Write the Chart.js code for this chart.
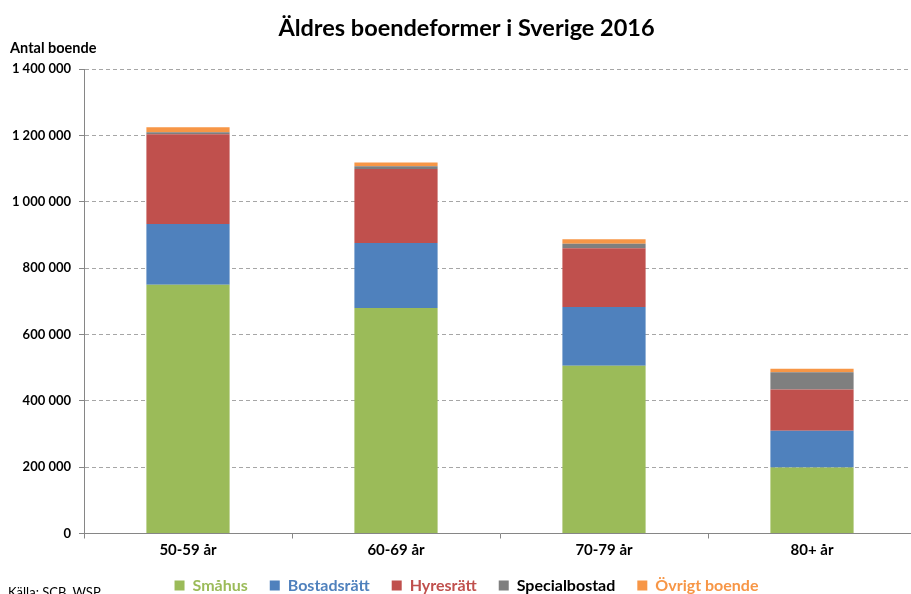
<!DOCTYPE html>
<html>
<head>
<meta charset="utf-8">
<script src="https://cdn.jsdelivr.net/npm/chart.js@4/dist/chart.umd.min.js"></script>
<style>
  html, body { margin: 0; padding: 0; background: #fff; overflow: hidden; }
  #wrap { position: relative; width: 933px; height: 594px; }
  .note { position: absolute; font-family: Lato, sans-serif; color: #000; white-space: nowrap; }
  #yTitle { left: 10px; top: 39px; font-size: 14.5px; font-weight: bold; }
  #source { left: 8px; top: 584px; font-size: 13px; }
</style>
</head>
<body>
<div id="wrap">
  <canvas id="chart" width="933" height="594"></canvas>
  <div class="note" id="yTitle">Antal boende</div>
  <div class="note" id="source">Källa: SCB, WSP</div>
</div>
<script>
// Age groups on the x axis
const ageGroups = ['50-59 år', '60-69 år', '70-79 år', '80+ år'];

// Number of residents per housing type
const smahus = [750000, 680000, 506000, 199000];
const bostadsratt = [183000, 196000, 177000, 111000];
const hyresratt = [271000, 223000, 177000, 124000];
const specialbostad = [6000, 8000, 14000, 52000];
const ovrigt = [15000, 12000, 13000, 11000];

const seriesNames = ['Småhus', 'Bostadsrätt', 'Hyresrätt', 'Specialbostad', 'Övrigt boende'];
const seriesColors = ['#9bbb59', '#4f81bd', '#c0504d', '#7f7f7f', '#f79646'];
const legendTextColors = ['#9bbb59', '#4f81bd', '#c0504d', '#000000', '#f79646'];

const yTickLabels = ['0', '200 000', '400 000', '600 000', '800 000', '1 000 000', '1 200 000', '1 400 000'];

const seriesData = [smahus, bostadsratt, hyresratt, specialbostad, ovrigt];

const datasets = seriesData.map((values, i) => ({
    label: seriesNames[i],
    data: values,
    backgroundColor: seriesColors[i],
    borderWidth: 0,
    barPercentage: 0.4,
    categoryPercentage: 1.0
}));

// The original chart is wider than the picture; title and legend are
// centred on the full width, so nudge them right after layout.
// The legend is also lifted a little.
const boxShift = {
    id: 'boxShift',
    afterLayout(chart) {
        const dx = 8.5;
        [chart.titleBlock, chart.legend].forEach(box => {
            if (box) {
                box.left += dx;
                box.right += dx;
            }
        });
        if (chart.legend) {
            chart.legend.top -= 6;
            chart.legend.bottom -= 6;
        }
    }
};

const ctx = document.getElementById('chart').getContext('2d');

new Chart(ctx, {
    type: 'bar',
    data: {
        labels: ageGroups,
        datasets: datasets
    },
    plugins: [boxShift],
    options: {
        responsive: false,
        animation: false,
        layout: {
            // negative bottom padding lets the legend sit at the very edge like in the original
            padding: { left: 0, right: 17, top: 0, bottom: -15.5 }
        },
        plugins: {
            title: {
                display: true,
                text: 'Äldres boendeformer i Sverige 2016',
                color: '#000',
                font: { family: 'Lato', size: 23.5, weight: 'bold' },
                padding: { top: 14, bottom: 27 }
            },
            legend: {
                position: 'bottom',
                labels: {
                    boxWidth: 10,
                    boxHeight: 10,
                    padding: 22,
                    font: { family: 'Lato', size: 16, weight: 'bold' },
                    generateLabels: function(chart) {
                        const items = Chart.defaults.plugins.legend.labels.generateLabels(chart);
                        items.forEach((item, i) => {
                            item.fontColor = legendTextColors[i];
                            item.lineWidth = 0;
                        });
                        return items;
                    }
                }
            },
            tooltip: { enabled: false }
        },
        scales: {
            x: {
                stacked: true,
                grid: {
                    offset: true,
                    drawOnChartArea: false,
                    tickLength: 5,
                    tickColor: '#868686'
                },
                border: { color: '#868686' },
                ticks: {
                    color: '#000',
                    padding: 3,
                    font: { family: 'Lato', size: 15, weight: 'bold' }
                },
                afterFit: function(scale) {
                    scale.height = 28;
                }
            },
            y: {
                stacked: true,
                min: 0,
                max: 1400000,
                ticks: {
                    stepSize: 200000,
                    color: '#000',
                    padding: 8,
                    font: { family: 'Lato', size: 13, weight: 'bold' },
                    callback: function(value, index) {
                        return yTickLabels[index];
                    }
                },
                grid: {
                    color: function(c) {
                        return c.index === 0 ? 'rgba(0,0,0,0)' : '#a6a6a6';
                    },
                    tickColor: '#868686',
                    tickLength: 5,
                    tickBorderDash: []
                },
                border: { color: '#868686', dash: [4, 3] },
                afterFit: function(scale) {
                    scale.width = 84;
                }
            }
        }
    }
});
</script>
</body>
</html>
